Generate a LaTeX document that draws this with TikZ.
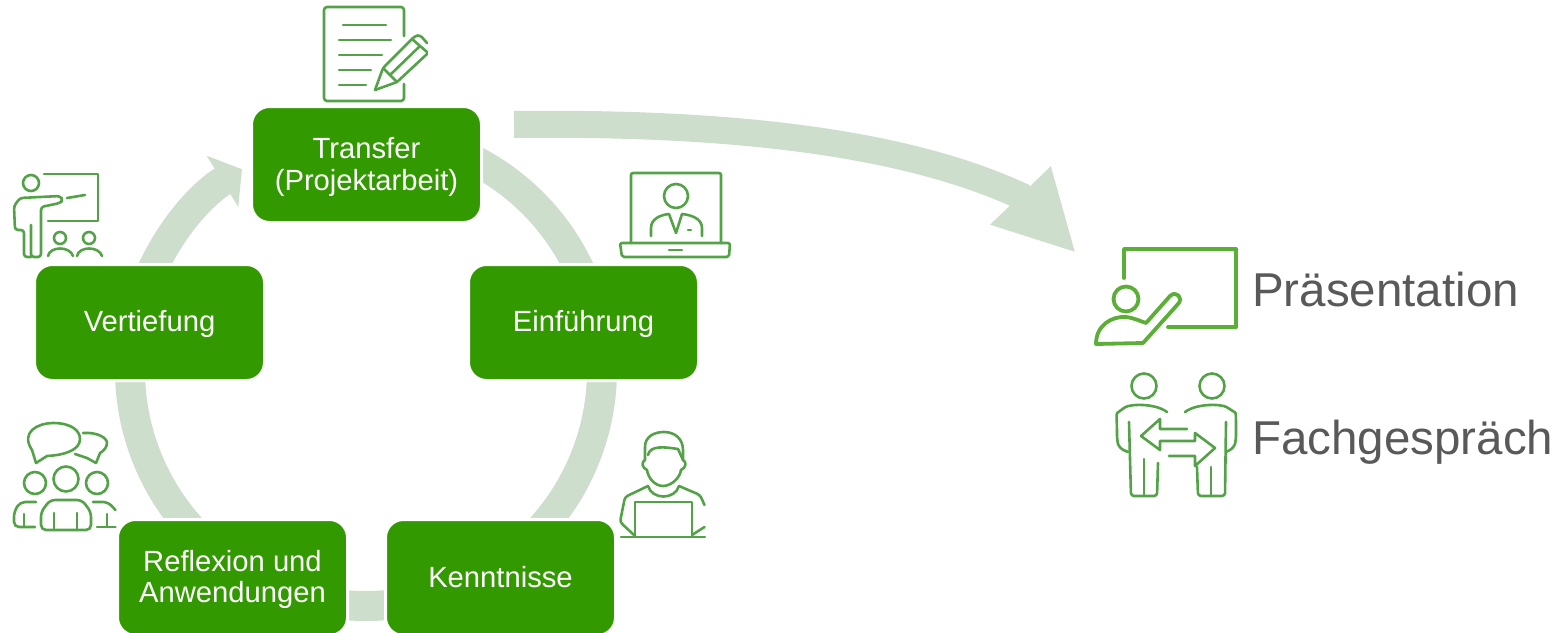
\documentclass[tikz,border=0pt]{standalone}
\usepackage{fontspec}
\setmainfont{Liberation Sans}
\usetikzlibrary{arrows.meta,calc,backgrounds}
\definecolor{boxgreen}{HTML}{339900}
\definecolor{ringgreen}{HTML}{CEDECC}
\definecolor{icongreen}{HTML}{53A248}
\definecolor{brightgreen}{HTML}{5BAE36}
\definecolor{labelgray}{HTML}{595959}
\newcommand{\lowtx}[2]{\raisebox{-#1pt}[\height][\depth]{#2}}
\tikzset{
  stepbox/.style={draw=white,line width=3pt,fill=boxgreen,rounded corners=18pt,minimum width=230pt,minimum height=116pt,inner sep=0pt,text=white,align=center,font=\fontsize{29.2}{32}\selectfont},
  ringarc/.style={draw=ringgreen,line width=30pt},
  ringarrow/.style={ringarc,-{Triangle[length=23pt,width=59pt,fill=ringgreen]}},
  bigarrow/.style={draw=ringgreen,line width=27pt,-{Triangle[length=80pt,width=78pt,fill=ringgreen]}},
  icon/.style={draw=icongreen,line width=2.6pt,line cap=round,line join=round},
  bigicon/.style={draw=brightgreen,line width=3.8pt,line cap=round,line join=round},
  sidelabel/.style={text=labelgray,anchor=base west,inner sep=0pt,font=\fontsize{47.5}{50}\selectfont}
}
\begin{document}
\begin{tikzpicture}[x=1pt,y=-1pt]
\useasboundingbox (0,0) rectangle (1558,632);
\coordinate (ring) at (366,370);
% nodes
\node[stepbox] (transfer) at (366.5,164.5) {\lowtx{2}{Transfer}\\\lowtx{2}{(Projektarbeit)}};
\node[stepbox] (einf) at (583.5,322.5) {\lowtx{1}{Einführung}};
\node[stepbox] (kenn) at (500.5,577.5) {Kenntnisse};
\node[stepbox] (refl) at (232.5,577.5) {\lowtx{2}{Reflexion und}\\\lowtx{1}{Anwendungen}};
\node[stepbox] (vert) at (149.5,322.5) {\lowtx{1}{Vertiefung}};
\node[sidelabel] (praes) at (1252,306) {Präsentation};
\node[sidelabel] (fach) at (1252,454) {Fachgespräch};
% ring connectors
\coordinate (s1) at ($(ring)+(-65:236)$);
\coordinate (s2) at ($(ring)+(-5:236)$);
\coordinate (s3) at ($(ring)+(80:236)$);
\coordinate (s4) at ($(ring)+(125:236)$);
\coordinate (s5) at ($(ring)+(200:236)$);
\coordinate (bigstart) at (514,124.5);
\coordinate (bigbase) at (1021,196);
\coordinate (bigtip) at (1076,253);
\begin{scope}[on background layer]
\draw[ringarc] (s1) arc[start angle=-65,end angle=-20,radius=236];
\draw[ringarc] (s2) arc[start angle=-5,end angle=55,radius=236];
\draw[ringarc] (s3) arc[start angle=80,end angle=100,radius=236];
\draw[ringarc] (s4) arc[start angle=125,end angle=190,radius=236];
\draw[ringarrow] (s5) arc[start angle=200,end angle=238.3,radius=236];
\draw[bigarrow] (bigstart) .. controls (720,122) and (900,140) .. (bigbase) -- (bigtip);
\end{scope}
% document icon
\draw[icon,rounded corners=3pt] (404,36) -- (404,7) -- (324,7) -- (324,101) -- (404,101) -- (404,84);
\draw[icon] (343,25) -- (386,25) (339,40) -- (391,40) (339,55) -- (382,55) (339,70) -- (371,70) (339,85) -- (366,85);
\draw[icon,rounded corners=3pt] (375,90) -- (383,68) -- (415,36) -- (420,35) -- (427,43);
\draw[icon] (375,90) -- (397,82) -- (427,54);
\draw[icon] (383,68) -- (397,82) (390,75) -- (420,46) (412,39) -- (427,52);
% teacher icon
\draw[icon] (44,174) -- (98,174) -- (98,221) -- (48,221);
\draw[icon] (31,183) circle[radius=8];
\draw[icon,rounded corners=3pt] (31,257) -- (24,257) -- (24,230) -- (15,230) -- (14,206) -- (20,198) -- (60,196) -- (63,200) -- (60,203) -- (41,207) -- (41,257) -- (31,257) -- (31,225);
\draw[icon] (67,198) -- (85,195);
\draw[icon] (60,238) circle[radius=6] (89,238) circle[radius=6];
\draw[icon] (48,256) .. controls (50,246) and (70,246) .. (73,256);
\draw[icon] (77,256) .. controls (79,246) and (99,246) .. (102,256);
% laptop icon
\draw[icon,rounded corners=2pt] (631,243) -- (631,173) -- (721,173) -- (721,243);
\draw[icon] (676,196) circle[radius=12];
\draw[icon] (651,236) -- (651,228) .. controls (651,219) and (660,215) .. (669,214) -- (676,233) -- (682,214) .. controls (692,215) and (702,219) .. (702,228) -- (702,236);
\draw[icon] (688,230) -- (691,230) (669,250) -- (682,250);
\draw[icon,rounded corners=2pt] (620,243) -- (730,243) -- (729,257) -- (622,257) -- cycle;
% group icon
\draw[icon] (36,463) -- (32,450) .. controls (20,432) and (38,423) .. (53,423) .. controls (72,423) and (80,431) .. (80,439) .. controls (80,450) and (65,455) .. (47,456) -- cycle;
\draw[icon] (83,433) .. controls (98,432) and (107,438) .. (107,443) .. controls (107,448) and (103,451) .. (100,453) -- (96,463) -- (87,458) -- (75,454);
\draw[icon] (35,483) circle[radius=11] (66,479) circle[radius=12.5] (97,483) circle[radius=11];
\draw[icon,rounded corners=5pt] (41,530) -- (41,512) -- (50,500) -- (82,500) -- (91,512) -- (91,530) -- cycle;
\draw[icon] (54,513) -- (54,530) (77,513) -- (77,530);
\draw[icon,rounded corners=5pt] (36,502) -- (20,502) -- (14,512) -- (14,527) -- (35,527);
\draw[icon] (24,514) -- (24,527);
\draw[icon,rounded corners=5pt] (93,502) -- (108,502) -- (115.5,510);
\draw[icon] (97,527) -- (115.5,527) (107,514) -- (107,527);
% person at laptop icon
\draw[icon] (645,460) -- (645,447) .. controls (645,436) and (655,432) .. (664,432) .. controls (675,432) and (683,439) .. (683,450) -- (683,460);
\draw[icon] (648,455) .. controls (650,445) and (665,447) .. (678,449) -- (683,460) .. controls (687,462) and (686,468) .. (681,470) .. controls (680,478) and (671,486) .. (663,486) .. controls (655,486) and (648,478) .. (647,470) .. controls (642,468) and (641,462) .. (645,460);
\draw[icon] (648,486) .. controls (652,500) and (675,500) .. (679,486);
\draw[icon,rounded corners=3pt] (648,486) -- (625,497) -- (620,522) -- (634,535);
\draw[icon,rounded corners=3pt] (679,486) -- (700,495) -- (704.5,505);
\draw[icon] (704.5,527) -- (692,535);
\draw[icon] (635,537) -- (635,502) -- (692,502) -- (692,537);
\draw[icon] (621,537) -- (705,537);
% presentation icon
\draw[bigicon] (1124,278) -- (1124,249) -- (1236,249) -- (1236,327) -- (1168,327);
\draw[bigicon] (1126,299) circle[radius=12.5];
\draw[bigicon] (1096,344) .. controls (1096,325) and (1112,316) .. (1126,317) .. controls (1134,318) and (1140,321) .. (1146,323) -- (1170,296) .. controls (1176,290) and (1184,298) .. (1178,304) -- (1143,343) -- cycle;
% discussion icon
\draw[icon] (1144,386) circle[radius=12.5] (1212,386) circle[radius=12.5];
\draw[icon,rounded corners=5pt] (1167,412) .. controls (1155,403) and (1130,404) .. (1121,410) .. controls (1116,414) and (1117,420) .. (1117,440) -- (1119,448) -- (1128,452);
\draw[icon,rounded corners=3pt] (1129,422) -- (1131,496) -- (1157,496) -- (1158,463);
\draw[icon] (1144,459) -- (1144,496);
\draw[icon,rounded corners=5pt] (1185,412) .. controls (1197,403) and (1222,404) .. (1231,410) .. controls (1236,413) and (1236,420) .. (1236,440) -- (1234,448) -- (1226,452);
\draw[icon,rounded corners=3pt] (1226,422) -- (1225,496) -- (1198,496) -- (1197,467);
\draw[icon] (1211,467) -- (1211,496);
\draw[icon] (1187,429) -- (1160,429) -- (1160,419) -- (1141,436) -- (1160,450) -- (1160,441) -- (1195,441) -- (1195,433) -- (1215,448) -- (1195,466) -- (1195,456) -- (1169,456);
\end{tikzpicture}
\end{document}
